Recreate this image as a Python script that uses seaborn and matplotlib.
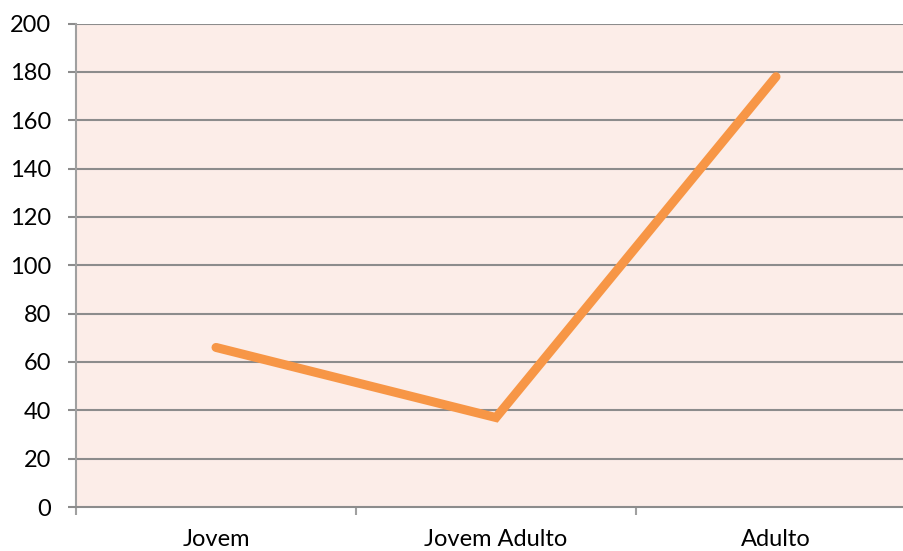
import matplotlib
matplotlib.use("Agg")
import matplotlib.pyplot as plt
import seaborn as sns
import pandas as pd

categories = ["Jovem", "Jovem Adulto", "Adulto"]
values = [66, 37, 178]
y_ticks = [0, 20, 40, 60, 80, 100, 120, 140, 160, 180, 200]

df = pd.DataFrame({"faixa": categories, "valor": values})

sns.set_theme(style="white")
plt.rcParams["font.family"] = ["Lato", "DejaVu Sans"]

fig = plt.figure(figsize=(9.04, 5.51), dpi=100)
W, H = 904, 551
ax = fig.add_axes([76 / W, 44 / H, 840 / W, 483.5 / H])
ax.set_facecolor("#FCEDE8")

for y in y_ticks[1:]:
    ax.axhline(y, color="#8C8C8C", lw=1.5, zorder=1)

sns.lineplot(data=df, x="faixa", y="valor", ax=ax, color="#F79646",
             linewidth=6.5, sort=False, zorder=3,
             solid_capstyle="round", solid_joinstyle="miter")

ax.set_xlim(-0.5, 2.5)
ax.set_ylim(0, 200)
ax.set_yticks(y_ticks)
ax.set_xticks(range(len(categories)))
ax.set_xticklabels(categories)
ax.set_xticks([-0.5, 0.5, 1.5, 2.5], minor=True)
ax.set_xlabel("")
ax.set_ylabel("")

for side in ["top", "right"]:
    ax.spines[side].set_visible(False)
ax.spines["left"].set_color("#A0A0A0")
ax.spines["left"].set_linewidth(1.5)
ax.spines["bottom"].set_color("#8C8C8C")
ax.spines["bottom"].set_linewidth(1.5)

ax.tick_params(axis="y", which="major", direction="out", length=6, width=1.5,
               color="#8C8C8C", labelsize=17, pad=12, left=True)
ax.tick_params(axis="x", which="major", length=0, labelsize=17, pad=16)
ax.tick_params(axis="x", which="minor", direction="out", length=6, width=1.5,
               color="#A0A0A0", bottom=True)
for lbl in ax.get_xticklabels() + ax.get_yticklabels():
    lbl.set_color("black")

fig.savefig("out.png", dpi=100, facecolor="white")
